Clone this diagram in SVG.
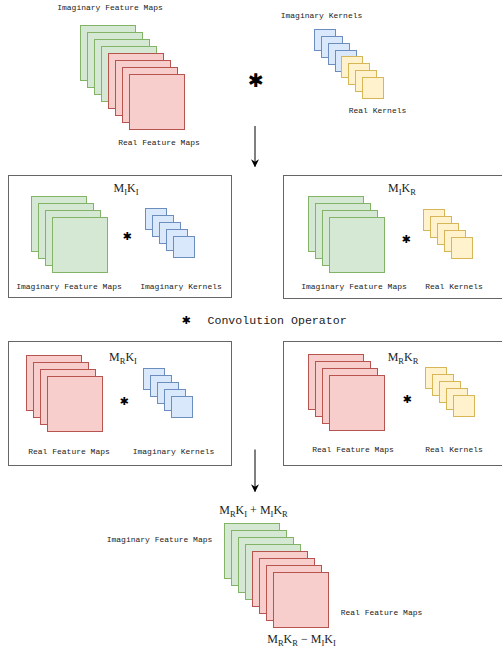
<svg xmlns="http://www.w3.org/2000/svg" width="502" height="651" viewBox="0 0 502 651">
<defs>
<style>
.g{fill:#d5e8d4;stroke:#82b366;stroke-width:1}
.r{fill:#f8cecc;stroke:#b85450;stroke-width:1}
.b{fill:#dae8fc;stroke:#6c8ebf;stroke-width:1}
.y{fill:#fff2cc;stroke:#d6b656;stroke-width:1}
.box{fill:#ffffff;stroke:#666666;stroke-width:1}
.lbl{font-family:"Liberation Mono","Courier New",monospace;font-size:8px;fill:#222;text-anchor:middle}
.math{font-family:"Liberation Serif","Times New Roman",serif;font-size:12px;fill:#222;text-anchor:middle}
.sub{font-size:8.5px}
.op{font-family:"DejaVu Sans",sans-serif;fill:#000;text-anchor:middle}
.conn{stroke:#000;stroke-width:1;fill:none}
</style>
<marker id="arr" viewBox="0 0 10 10" refX="9" refY="5" markerWidth="8" markerHeight="8" markerUnits="userSpaceOnUse" orient="auto">
<path d="M0,0 L10,5 L0,10 L3,5 Z" fill="#000"/>
</marker>
</defs>

<g id="input-feature-maps">
<rect class="g" x="80.5" y="25.5" width="55" height="55"/>
<rect class="g" x="87.5" y="32.5" width="55" height="55"/>
<rect class="g" x="94.5" y="39.5" width="55" height="55"/>
<rect class="g" x="101.5" y="46.5" width="55" height="55"/>
<rect class="r" x="108.5" y="53.5" width="55" height="55"/>
<rect class="r" x="115.5" y="60.5" width="55" height="55"/>
<rect class="r" x="122.5" y="67.5" width="55" height="55"/>
<rect class="r" x="129.5" y="74.5" width="55" height="55"/>
<text class="lbl" x="110" y="9.5">Imaginary Feature Maps</text>
<text class="lbl" x="159" y="145">Real Feature Maps</text>
</g>

<g id="input-operator">
<text class="op" x="256" y="87" font-size="19">✱</text>
</g>

<g id="input-kernels">
<rect class="b" x="314.5" y="29.5" width="21" height="21"/>
<rect class="b" x="321.5" y="36.5" width="21" height="21"/>
<rect class="b" x="328.5" y="43.5" width="21" height="21"/>
<rect class="b" x="335.5" y="50.5" width="21" height="21"/>
<rect class="y" x="341.5" y="56.5" width="21" height="21"/>
<rect class="y" x="348.5" y="63.5" width="21" height="21"/>
<rect class="y" x="355.5" y="70.5" width="21" height="21"/>
<rect class="y" x="362.5" y="77.5" width="21" height="21"/>
<text class="lbl" x="321.5" y="17.5">Imaginary Kernels</text>
<text class="lbl" x="377.5" y="113">Real Kernels</text>
</g>

<g id="box-MIKI">
<rect class="box" x="8.5" y="175.5" width="223" height="122"/>
<text class="math" x="126" y="192">M<tspan class="sub" dy="3">I</tspan><tspan dy="-3">K</tspan><tspan class="sub" dy="3">I</tspan></text>
<rect class="g" x="31.5" y="196.5" width="55" height="55"/>
<rect class="g" x="38.5" y="203.5" width="55" height="55"/>
<rect class="g" x="45.5" y="210.5" width="55" height="55"/>
<rect class="g" x="52.5" y="217.5" width="55" height="55"/>
<text class="op" x="127" y="240" font-size="11">✱</text>
<rect class="b" x="145.5" y="208.5" width="21" height="21"/>
<rect class="b" x="152.5" y="215.5" width="21" height="21"/>
<rect class="b" x="159.5" y="222.5" width="21" height="21"/>
<rect class="b" x="166.5" y="229.5" width="21" height="21"/>
<rect class="b" x="173.5" y="236.5" width="21" height="21"/>
<text class="lbl" x="69" y="289">Imaginary Feature Maps</text>
<text class="lbl" x="181" y="289">Imaginary Kernels</text>
</g>

<g id="box-MIKR">
<rect class="box" x="283.5" y="175.5" width="222" height="123"/>
<text class="math" x="402" y="192">M<tspan class="sub" dy="3">I</tspan><tspan dy="-3">K</tspan><tspan class="sub" dy="3">R</tspan></text>
<rect class="g" x="308.5" y="196.5" width="55" height="55"/>
<rect class="g" x="315.5" y="203.5" width="55" height="55"/>
<rect class="g" x="322.5" y="210.5" width="55" height="55"/>
<rect class="g" x="329.5" y="217.5" width="55" height="55"/>
<text class="op" x="406" y="243" font-size="11">✱</text>
<rect class="y" x="423.5" y="209.5" width="21" height="21"/>
<rect class="y" x="430.5" y="216.5" width="21" height="21"/>
<rect class="y" x="437.5" y="223.5" width="21" height="21"/>
<rect class="y" x="444.5" y="230.5" width="21" height="21"/>
<rect class="y" x="451.5" y="237.5" width="21" height="21"/>
<text class="lbl" x="354" y="289">Imaginary Feature Maps</text>
<text class="lbl" x="454" y="289">Real Kernels</text>
</g>

<g id="legend">
<text class="op" x="186" y="324" font-size="11">✱</text>
<text x="207.5" y="323.5" font-family="Liberation Mono, Courier New, monospace" font-size="11.6" fill="#222">Convolution Operator</text>
</g>

<g id="box-MRKI">
<rect class="box" x="8.5" y="341.5" width="223" height="124"/>
<text class="math" x="123" y="361">M<tspan class="sub" dy="3">R</tspan><tspan dy="-3">K</tspan><tspan class="sub" dy="3">I</tspan></text>
<rect class="r" x="26.5" y="355.5" width="55" height="55"/>
<rect class="r" x="33.5" y="362.5" width="55" height="55"/>
<rect class="r" x="40.5" y="369.5" width="55" height="55"/>
<rect class="r" x="47.5" y="376.5" width="55" height="55"/>
<text class="op" x="124" y="405" font-size="11">✱</text>
<rect class="b" x="143.5" y="368.5" width="21" height="21"/>
<rect class="b" x="150.5" y="375.5" width="21" height="21"/>
<rect class="b" x="157.5" y="382.5" width="21" height="21"/>
<rect class="b" x="164.5" y="389.5" width="21" height="21"/>
<rect class="b" x="171.5" y="396.5" width="21" height="21"/>
<text class="lbl" x="69" y="453.5">Real Feature Maps</text>
<text class="lbl" x="173.5" y="453.5">Imaginary Kernels</text>
</g>

<g id="box-MRKR">
<rect class="box" x="283.5" y="341.5" width="222" height="124"/>
<text class="math" x="403" y="361">M<tspan class="sub" dy="3">R</tspan><tspan dy="-3">K</tspan><tspan class="sub" dy="3">R</tspan></text>
<rect class="r" x="308.5" y="354.5" width="55" height="55"/>
<rect class="r" x="315.5" y="361.5" width="55" height="55"/>
<rect class="r" x="322.5" y="368.5" width="55" height="55"/>
<rect class="r" x="329.5" y="375.5" width="55" height="55"/>
<text class="op" x="407" y="403" font-size="11">✱</text>
<rect class="y" x="425.5" y="367.5" width="21" height="21"/>
<rect class="y" x="432.5" y="374.5" width="21" height="21"/>
<rect class="y" x="439.5" y="381.5" width="21" height="21"/>
<rect class="y" x="446.5" y="388.5" width="21" height="21"/>
<rect class="y" x="453.5" y="395.5" width="21" height="21"/>
<text class="lbl" x="353" y="452">Real Feature Maps</text>
<text class="lbl" x="454" y="452">Real Kernels</text>
</g>

<g id="output-feature-maps">
<text class="math" x="253.5" y="514">M<tspan class="sub" dy="3">R</tspan><tspan dy="-3">K</tspan><tspan class="sub" dy="3">I</tspan><tspan dy="-3"> + M</tspan><tspan class="sub" dy="3">I</tspan><tspan dy="-3">K</tspan><tspan class="sub" dy="3">R</tspan></text>
<rect class="g" x="224.5" y="523.5" width="55" height="55"/>
<rect class="g" x="231.5" y="530.5" width="55" height="55"/>
<rect class="g" x="238.5" y="537.5" width="55" height="55"/>
<rect class="g" x="245.5" y="544.5" width="55" height="55"/>
<rect class="r" x="252.5" y="551.5" width="55" height="55"/>
<rect class="r" x="259.5" y="558.5" width="55" height="55"/>
<rect class="r" x="266.5" y="565.5" width="55" height="55"/>
<rect class="r" x="273.5" y="572.5" width="55" height="55"/>
<text class="lbl" x="159.5" y="541.5">Imaginary Feature Maps</text>
<text class="lbl" x="381.5" y="615">Real Feature Maps</text>
<text class="math" x="301.5" y="643">M<tspan class="sub" dy="3">R</tspan><tspan dy="-3">K</tspan><tspan class="sub" dy="3">R</tspan><tspan dy="-3"> − M</tspan><tspan class="sub" dy="3">I</tspan><tspan dy="-3">K</tspan><tspan class="sub" dy="3">I</tspan></text>
</g>

<g id="connectors">
<line class="conn" x1="255" y1="126" x2="255" y2="166.5" marker-end="url(#arr)"/>
<line class="conn" x1="255" y1="449.5" x2="255" y2="491.5" marker-end="url(#arr)"/>
</g>
</svg>
